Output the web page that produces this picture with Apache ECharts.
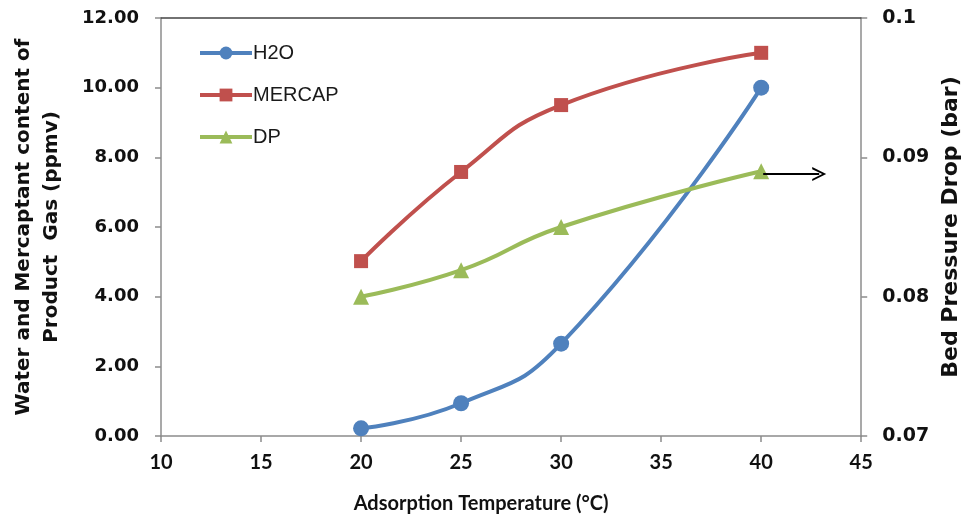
<!DOCTYPE html>
<html><head><meta charset="utf-8">
<script src="https://cdn.jsdelivr.net/npm/echarts@6/dist/echarts.min.js"></script>
<style>html,body{margin:0;padding:0;background:#fff}#c{width:970px;height:519px}</style>
</head><body><div id="c"></div>
<script>
const temps = [20, 25, 30, 40];
const h2o = [0.22, 0.94, 2.65, 10.0];
const mercap = [5.02, 7.58, 9.5, 11.0];
const dp = [0.0800, 0.0819, 0.0850, 0.0890];
const arrowFrom = [40.1, 0.0888];
const arrowTo = [42.9, 0.0888];

const pair = (xs, ys) => xs.map((x, i) => [x, ys[i]]);
const wide = '"DejaVu Sans", Verdana, sans-serif';
const arial = 'Arial, "Liberation Sans", sans-serif';
const cal = 'Lato, "Open Sans", sans-serif';
const axisGray = '#8c8c8c';

const chart = echarts.init(document.getElementById('c'));
chart.setOption({
  animation: false,
  grid: { left: 161, right: 106, top: 18, bottom: 82 },
  legend: {
    orient: 'vertical', left: 193, top: 38, itemGap: 22,
    itemWidth: 52, itemHeight: 16,
    lineStyle: { width: 4 },
    textStyle: { fontFamily: arial, fontSize: 20, color: '#1a1a1a', padding: [0,0,0,-4] },
    data: ['H2O', 'MERCAP', 'DP']
  },
  xAxis: [{
    type: 'value', min: 10, max: 45, interval: 5,
    name: 'Adsorption Temperature (°C)', nameLocation: 'middle', nameGap: 58,
    nameTextStyle: { fontFamily: cal, fontSize: 20, fontWeight: 'bold', color: '#111', padding: [0, 60, 0, 0] },
    axisLine: { lineStyle: { color: axisGray, width: 1.5 } },
    axisTick: { show: true, length: 6, lineStyle: { color: axisGray, width: 1.5 } },
    axisLabel: { margin: 17, fontFamily: cal, fontSize: 20, fontWeight: 'bold', color: '#111' },
    splitLine: { show: false }
  }, {
    type: 'value', min: 10, max: 45, position: 'top',
    axisLine: { show: true, lineStyle: { color: '#444', width: 1.5 } },
    axisTick: { show: false }, axisLabel: { show: false }, splitLine: { show: false }
  }],
  yAxis: [{
    type: 'value', min: 0, max: 12, interval: 2,
    name: 'Water and Mercaptant content of\nProduct  Gas (ppmv)', nameLocation: 'middle', nameGap: 95,
    nameTextStyle: { fontFamily: wide, fontSize: 20, fontWeight: 'bold', color: '#111', lineHeight: 28 },
    axisLine: { show: true, lineStyle: { color: axisGray, width: 1.5 } },
    axisTick: { show: true, length: 6, lineStyle: { color: axisGray, width: 1.5 } },
    axisLabel: { margin: 22, fontFamily: wide, fontSize: 18, fontWeight: 'bold', color: '#111',
      formatter: v => v.toFixed(2) },
    splitLine: { show: false }
  }, {
    type: 'value', min: 0.07, max: 0.1, interval: 0.01,
    name: 'Bed Pressure Drop (bar)', nameLocation: 'middle', nameGap: 78,
    nameTextStyle: { fontFamily: wide, fontSize: 22, fontWeight: 'bold', color: '#111' },
    axisLine: { show: true, lineStyle: { color: axisGray, width: 1.5 } },
    axisTick: { show: true, length: 6, lineStyle: { color: axisGray, width: 1.5 } },
    axisLabel: { margin: 21, fontFamily: wide, fontSize: 19, fontWeight: 'bold', color: '#111',
      formatter: v => String(+v.toFixed(2)) },
    splitLine: { show: false }
  }],
  series: [{
    name: 'H2O', type: 'line', smooth: 0.5, data: pair(temps, h2o),
    symbol: 'circle', symbolSize: 16,
    itemStyle: { color: '#4F81BD' }, lineStyle: { width: 4, color: '#4F81BD' }
  }, {
    name: 'MERCAP', type: 'line', smooth: 0.5, data: pair(temps, mercap),
    symbol: 'rect', symbolSize: 14,
    itemStyle: { color: '#C0504D' }, lineStyle: { width: 4, color: '#C0504D' }
  }, {
    name: 'DP', type: 'line', smooth: 0.5, yAxisIndex: 1, data: pair(temps, dp),
    symbol: 'triangle', symbolSize: 16,
    itemStyle: { color: '#9BBB59' }, lineStyle: { width: 4, color: '#9BBB59' },
    markLine: {
      silent: true, symbol: ['none', 'path://M0,14 L10,0 L20,14 L17,14 L10,4 L3,14 Z'], symbolSize: [14, 14],
      label: { show: false },
      lineStyle: { color: '#000', width: 2, type: 'solid' },
      data: [[{ coord: arrowFrom }, { coord: arrowTo }]]
    }
  }]
});
</script></body></html>
